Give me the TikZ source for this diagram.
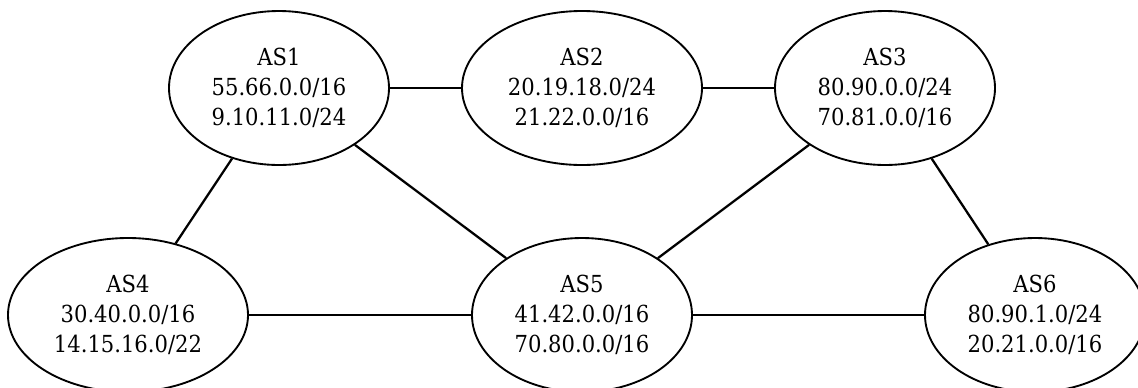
\documentclass[tikz,border=0pt]{standalone}
\usepackage{fontspec}
\setmainfont{DejaVu Serif Condensed}
\usetikzlibrary{shapes.geometric}
\tikzset{
  x=0.75pt, y=-0.75pt,
  asnode/.style={ellipse, draw, line width=1.4pt, inner sep=0pt, align=center,
    minimum height=115.5pt, font=\fontsize{17.6}{22.5}\selectfont},
  narrow/.style={asnode, minimum width=165pt},
  wide/.style={asnode, minimum width=180pt},
  link/.style={line width=1.7pt}
}
\begin{document}
\begin{tikzpicture}
\useasboundingbox (0,0) rectangle (1138,387);
\node[narrow] (as1) at (279,88) {AS1\\55.66.0.0/16\\9.10.11.0/24};
\node[wide]   (as2) at (582,88) {AS2\\20.19.18.0/24\\21.22.0.0/16};
\node[narrow] (as3) at (885,88) {AS3\\80.90.0.0/24\\70.81.0.0/16};
\node[wide]   (as4) at (128,315) {AS4\\30.40.0.0/16\\14.15.16.0/22};
\node[narrow] (as5) at (582,315) {AS5\\41.42.0.0/16\\70.80.0.0/16};
\node[narrow] (as6) at (1035,315) {AS6\\80.90.1.0/24\\20.21.0.0/16};
\draw[link] (as1) -- (as2);
\draw[link] (as2) -- (as3);
\draw[link] (as1) -- (as4);
\draw[link] (as1) -- (as5);
\draw[link] (as3) -- (as5);
\draw[link] (as3) -- (as6);
\draw[link] (as4) -- (as5);
\draw[link] (as5) -- (as6);
\end{tikzpicture}
\end{document}
